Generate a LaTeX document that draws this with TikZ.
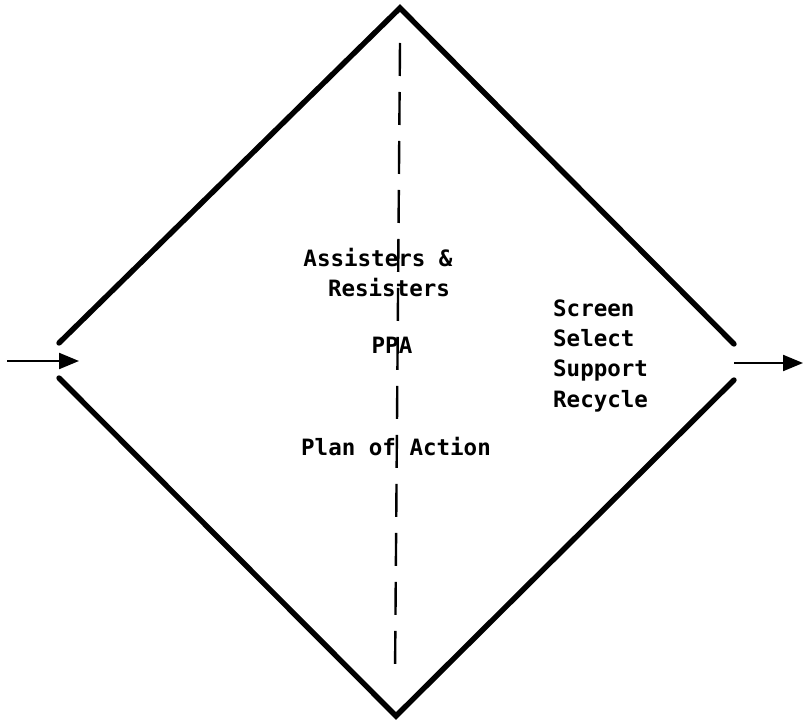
\documentclass[tikz,border=0pt]{standalone}
\usepackage{fontspec}
\setmainfont{DejaVu Sans Mono}
\usetikzlibrary{arrows.meta}

\tikzset{
	side/.style={line width=5.4pt,line cap=round,line join=miter},
	flow/.style={line width=2.2pt,-{Triangle[length=20pt,width=16pt]}},
	axis/.style={line width=2.4pt,dash pattern=on 33pt off 16pt},
	lbl/.style={font=\bfseries\fontsize{22.5}{26}\selectfont,inner sep=0pt,anchor=base},
}

\begin{document}
\begin{tikzpicture}[x=1pt,y=-1pt]
		\useasboundingbox (0,0) rectangle (804,722);
		%Вершины ромба
		\coordinate (top) at (400,8);
		\coordinate (bot) at (396,716);
		\coordinate (lu) at (59,343);
		\coordinate (ll) at (59,378);
		\coordinate (ru) at (734,344);
		\coordinate (rl) at (734,380);
		
		%Стороны ромба
		\draw [side] (lu)--(top)--(ru);
		\draw [side] (ll)--(bot)--(rl);
		
		%Ось пунктиром
		\coordinate (axtop) at (400,43);
		\coordinate (axbot) at (395,676);
		\draw [axis] (axtop)--(axbot);
		
		%Вход и выход
		\coordinate (in) at (7,361);
		\coordinate (inend) at (79,361);
		\coordinate (out) at (734,363);
		\coordinate (outend) at (803,363);
		\draw [flow] (in)--(inend);
		\draw [flow] (out)--(outend);
		
		%Подписи слева
		\node [lbl] (assist) at (378,267) {Assisters \&};
		\node [lbl] (resist) at (389,297) {Resisters};
		\node [lbl] (ppa) at (392,353) {PPA};
		\node [lbl] (plan) at (396,455) {Plan of Action};
		
		%Подписи справа
		\node [lbl,anchor=base west] (screen) at (553,317) {Screen};
		\node [lbl,anchor=base west] (select) at (553,347) {Select};
		\node [lbl,anchor=base west] (support) at (553,377) {Support};
		\node [lbl,anchor=base west] (recycle) at (553,407) {Recycle};
	\end{tikzpicture}
\end{document}
